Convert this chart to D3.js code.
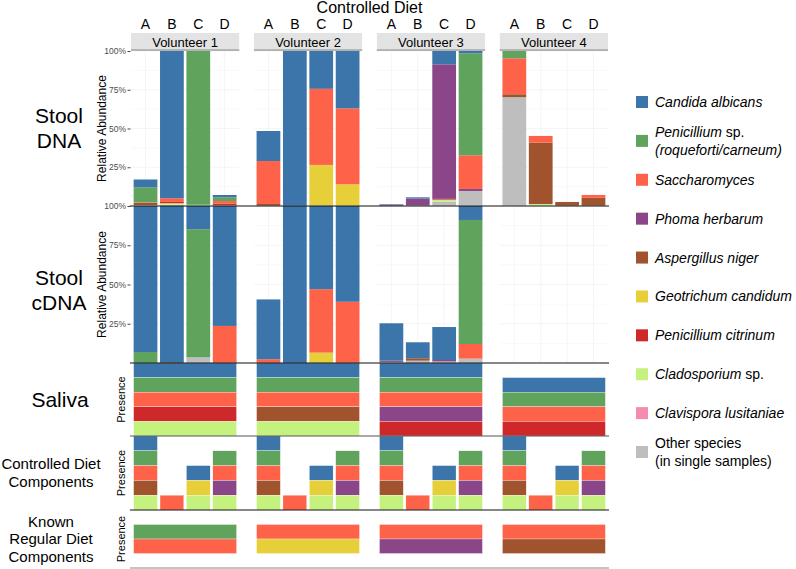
<!DOCTYPE html>
<html><head><meta charset="utf-8">
<script src="https://cdn.jsdelivr.net/npm/d3@7"></script>
<style>
body{margin:0;background:#fff;}
text{font-family:"Liberation Sans",Arial,Helvetica,sans-serif;}
</style>
</head><body>
<svg id="c" width="796" height="569"></svg>
<script>
// ---------- data ----------
const volunteers = ["Volunteer 1","Volunteer 2","Volunteer 3","Volunteer 4"];
const samples = ["A","B","C","D"];
const species = ["Candida albicans","Penicillium sp.","Saccharomyces","Phoma herbarum","Aspergillus niger",
  "Geotrichum candidum","Penicillium citrinum","Cladosporium sp.","Clavispora lusitaniae","Other species"];
const speciesColors = ["#3b75a9","#5fa35c","#fe6248","#8a4689","#a0532c","#e7cf39","#cf282b","#c5f17e","#f48cae","#bebebe"];
const abundanceTicks = [25,50,75,100];
const tickLabels = ["25%","50%","75%","100%"];

// Stool DNA relative abundance (%) : rows = samples A..D, columns = species (legend order)
const dnaV1 = [[5.0,9.7,0.3,0,1.6,0,0,0.5,0,0],[95.0,0,2.4,0,0,0,0.8,1.0,0,0.8],[0,99.2,0,0,0,0,0,0.8,0,0],[1.5,2.4,1.6,0,0,0,1.2,0.4,0,0]];
const dnaV2 = [[19.4,0,27.7,0,1.3,0,0,0,0,0],[100,0,0,0,0,0,0,0,0,0],[24.4,0,49.1,0,0,26.5,0,0,0,0],[37.0,0,49.0,0,0,14.0,0,0,0,0]];
const dnaV3 = [[0.3,0,0,0.9,0,0,0,0,0,0],[0.8,0,0,4.6,0,0,0,0,0,0.2],[8.6,0,0,86.8,0,0,0.5,1.2,0,2.9],[1.5,65.8,21.7,1.3,0,0,0,0,0,9.7]];
const dnaV4 = [[0,4.7,23.2,0,1.9,0,0,0,0,70.2],[0,0,4.3,0,39.6,0,0,1.1,0,0.2],[0,0,0,0,2.6,0,0,0,0,0],[0,0,1.8,0,5.3,0,0,0,0,0]];
// Stool cDNA relative abundance (%)
const cdnaV1 = [[93.0,7.0,0,0,0,0,0,0,0,0],[99.4,0,0,0,0.6,0,0,0,0,0],[14.8,81.6,0,0,0,0,0,0,0,3.6],[76.4,0,23.6,0,0,0,0,0,0,0]];
const cdnaV2 = [[38.1,0,2.4,0,0,0,0,0,0,0],[100,0,0,0,0,0,0,0,0,0],[53.0,0,40.4,0,0,6.6,0,0,0,0],[61.0,0,39.0,0,0,0,0,0,0,0]];
const cdnaV3 = [[23.8,0,0,0.8,0,0,0,0,0,0.7],[10.2,0,0,0,1.5,0,0,0,0,1.5],[21.0,0,0,0.9,0,0,0,0,0,1.0],[8.9,79.0,9.3,0,0,0,0,0,0,2.8]];
const cdnaV4 = [[0,0,0,0,0,0,0,0,0,0],[0,0,0,0,0,0,0,0,0,0],[0,0,0,0,0,0,0,0,0,0],[0,0,0,0,0,0,0,0,0,0]];

// Presence panels (species detected)
const salivaV1 = ["Candida albicans","Penicillium sp.","Saccharomyces","Penicillium citrinum","Cladosporium sp."];
const salivaV2 = ["Candida albicans","Penicillium sp.","Saccharomyces","Aspergillus niger","Cladosporium sp."];
const salivaV3 = ["Candida albicans","Penicillium sp.","Saccharomyces","Phoma herbarum","Penicillium citrinum"];
const salivaV4 = ["Candida albicans","Penicillium sp.","Saccharomyces","Penicillium citrinum"];
const dietA = ["Candida albicans","Penicillium sp.","Saccharomyces","Aspergillus niger","Cladosporium sp."];
const dietB = ["Saccharomyces"];
const dietC = ["Candida albicans","Geotrichum candidum","Cladosporium sp."];
const dietD = ["Penicillium sp.","Saccharomyces","Phoma herbarum","Cladosporium sp."];
const regularV1 = ["Penicillium sp.","Saccharomyces"];
const regularV2 = ["Saccharomyces","Geotrichum candidum"];
const regularV3 = ["Saccharomyces","Phoma herbarum"];
const regularV4 = ["Saccharomyces","Aspergillus niger"];

// Legend labels: lines of [text, italic]
const legendLabels = [
  [[["Candida albicans",1]]],
  [[["Penicillium",1],[" sp.",0]],[["(roqueforti/carneum)",1]]],
  [[["Saccharomyces",1]]],
  [[["Phoma herbarum",1]]],
  [[["Aspergillus niger",1]]],
  [[["Geotrichum candidum",1]]],
  [[["Penicillium citrinum",1]]],
  [[["Cladosporium",1],[" sp.",0]]],
  [[["Clavispora lusitaniae",1]]],
  [[["Other species",0]],[["(in single samples)",0]]]
];
const rowLabels = [["Stool","DNA"],["Stool","cDNA"],["Saliva"],["Controlled Diet","Components"],["Known","Regular Diet","Components"]];

// ---------- drawing ----------
const svg = d3.select("#c");
const fx = d3.scaleBand().domain(volunteers).range([131,608]).paddingInner(0.12);
const xs = d3.scaleBand().domain(samples).range([0, fx.bandwidth()]).paddingInner(0.1).paddingOuter(0.1);
const color = d3.scaleOrdinal().domain(species).range(speciesColors);
const idx = d3.range(species.length);
const stackGen = d3.stack().keys(idx.slice().reverse()).value((d,k)=>d[k]);

const panels = {dna:[51,206], cdna:[206,363], saliva:[363,436], diet:[436,510], regular:[510,568]};

// top title and sample labels
svg.append("text").attr("x",369.5).attr("y",13).attr("text-anchor","middle")
  .style("font-size","16px").text("Controlled Diet");
volunteers.forEach(v=>{
  svg.append("g").selectAll("text").data(samples).join("text")
    .attr("x",s=>fx(v)+xs(s)+xs.bandwidth()/2).attr("y",29).attr("text-anchor","middle")
    .style("font-size","14px").text(s=>s);
  const sg = svg.append("g").attr("transform",`translate(${fx(v)},33)`);
  sg.append("rect").attr("width",fx.bandwidth()).attr("height",18).attr("fill","#e3e3e3");
  sg.append("line").attr("x1",0).attr("x2",fx.bandwidth()).attr("y1",17.3).attr("y2",17.3).attr("stroke","#8a8a8a").attr("stroke-width",1.5);
  sg.append("text").attr("x",fx.bandwidth()/2).attr("y",13.5).attr("text-anchor","middle")
    .style("font-size","13px").text(v);
});

function stoolPanel(data, range){
  const y = d3.scaleLinear().domain([0,100]).range([range[1], range[0]]);
  volunteers.forEach((v,vi)=>{
    const fg = svg.append("g").attr("transform",`translate(${fx(v)},0)`);
    fg.selectAll("line.h").data(d3.range(12.5,100.1,12.5)).join("line")
      .attr("x1",0).attr("x2",fx.bandwidth()).attr("y1",d=>y(d)).attr("y2",d=>y(d))
      .attr("stroke","#f2f2f2").attr("stroke-width",d=>d%25===0?0.8:0.5);
    fg.selectAll("line.v").data(samples).join("line")
      .attr("x1",s=>xs(s)+xs.bandwidth()/2).attr("x2",s=>xs(s)+xs.bandwidth()/2)
      .attr("y1",range[0]).attr("y2",range[1]).attr("stroke","#f2f2f2").attr("stroke-width",0.8);
    const series = stackGen(data[vi]);
    series.forEach(ser=>{
      fg.append("g").attr("fill",speciesColors[ser.key]).selectAll("rect").data(ser).join("rect")
        .attr("x",(d,i)=>xs(samples[i])).attr("width",xs.bandwidth())
        .attr("y",d=>y(d[1])).attr("height",d=>Math.max(0,y(d[0])-y(d[1])));
    });
  });
  const ax = d3.axisLeft(y).tickValues(abundanceTicks).tickFormat((d,i)=>tickLabels[i]).tickSize(3).tickPadding(1.5);
  const ag = svg.append("g").attr("transform","translate(130.5,0)").call(ax);
  ag.select(".domain").remove();
  ag.selectAll("line").attr("stroke","#444");
  ag.selectAll("text").attr("fill","#4d4d4d").style("font-size","8.5px");
  svg.append("text").attr("transform",`translate(102,${(range[0]+range[1])/2}) rotate(-90)`)
    .attr("text-anchor","middle").attr("dominant-baseline","central").style("font-size","12px").text("Relative Abundance");
}
stoolPanel([dnaV1,dnaV2,dnaV3,dnaV4], panels.dna);
stoolPanel([cdnaV1,cdnaV2,cdnaV3,cdnaV4], panels.cdna);

function presenceStack(g, list, x, w, y){
  const n = list.length;
  g.selectAll(null).data(list).join("rect")
    .attr("x",x).attr("width",w)
    .attr("y",(d,i)=>y(n-i)).attr("height",(d,i)=>y(n-1-i)-y(n-i))
    .attr("fill",d=>color(d)).attr("stroke","#fff").attr("stroke-width",0.3);
}
function presencePanel(range, domain){
  const y = d3.scaleLinear().domain(domain).range([range[1],range[0]]);
  svg.append("text").attr("transform",`translate(121,${(range[0]+range[1])/2}) rotate(-90)`)
    .attr("text-anchor","middle").attr("dominant-baseline","central").style("font-size","11px").text("Presence");
  return y;
}
const ySal = presencePanel(panels.saliva,[0,5]);
[salivaV1,salivaV2,salivaV3,salivaV4].forEach((L,vi)=>{
  const v = volunteers[vi];
  presenceStack(svg.append("g"), L, fx(v)+xs("A"), xs("D")+xs.bandwidth()-xs("A"), ySal);
});
const yDiet = presencePanel(panels.diet,[0,5]);
volunteers.forEach(v=>{
  [dietA,dietB,dietC,dietD].forEach((L,si)=>{
    presenceStack(svg.append("g"), L, fx(v)+xs(samples[si]), xs.bandwidth(), yDiet);
  });
});
const yReg = presencePanel(panels.regular,[-1,3]);
[regularV1,regularV2,regularV3,regularV4].forEach((L,vi)=>{
  const v = volunteers[vi];
  presenceStack(svg.append("g"), L, fx(v)+xs("A"), xs("D")+xs.bandwidth()-xs("A"), yReg);
});

// separator lines
const seps = [[206,"#111"],[363,"#111"],[436,"#555"],[510,"#111"],[568,"#888"]];
svg.selectAll("line.sep").data(seps).join("line")
  .attr("x1",130).attr("x2",609).attr("y1",d=>d[0]).attr("y2",d=>d[0])
  .attr("stroke",d=>d[1]).attr("stroke-width",1.2);

// row labels
const rowCenters = [128.5, 290, 399.5, 473, 539];
const rowFont = [21,21,21,15,15];
const rowX = [59,59,60,51,51];
rowLabels.forEach((lines,ri)=>{
  const fs = rowFont[ri], lh = fs*1.18;
  const t = svg.append("text").attr("text-anchor","middle").style("font-size",fs+"px");
  lines.forEach((ln,li)=>{
    t.append("tspan").attr("x",rowX[ri])
      .attr("y",rowCenters[ri] + (li-(lines.length-1)/2)*lh + fs*0.35).text(ln);
  });
});

// legend
const legY = d3.scalePoint().domain(species).range([102,452]);
species.forEach((s,i)=>{
  const cy = legY(s);
  svg.append("rect").attr("x",636).attr("y",cy-6).attr("width",12).attr("height",12).attr("fill",color(s));
  const lines = legendLabels[i];
  lines.forEach((ln,li)=>{
    const t = svg.append("text").attr("x",655)
      .attr("y",cy + (li-(lines.length-1)/2)*18 + 5).style("font-size","14px");
    ln.forEach(seg=>t.append("tspan").style("font-style",seg[1]?"italic":"normal").text(seg[0]));
  });
});
</script>
</body></html>
